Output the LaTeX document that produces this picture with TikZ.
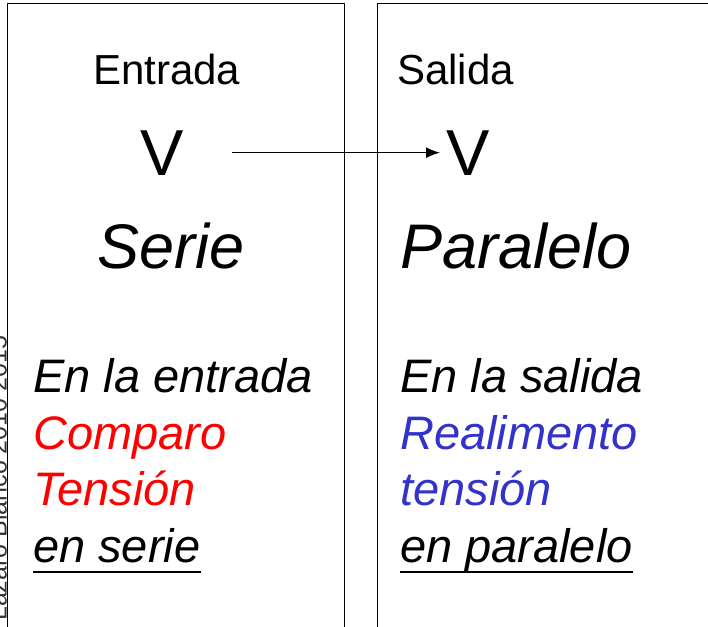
\documentclass[tikz,border=0pt]{standalone}
\usepackage{fontspec}
\setmainfont{Liberation Sans}
\usetikzlibrary{arrows.meta}
\definecolor{realblue}{RGB}{51,51,204}
\tikzstyle{panel} = [line width=1.8pt, draw=black]
\tikzstyle{title} = [anchor=base west, inner sep=0pt, font=\fontsize{42}{50}\selectfont]
\tikzstyle{volt} = [anchor=base west, inner sep=0pt, font=\fontsize{65}{78}\selectfont]
\tikzstyle{kind} = [anchor=base west, inner sep=0pt, font=\fontsize{63}{76}\selectfont\itshape]
\tikzstyle{note} = [anchor=base west, inner sep=0pt, font=\fontsize{47}{56}\selectfont\itshape]
\tikzstyle{arrow} = [line width=1.4pt, -{Latex[length=14pt,width=11pt]}]
\tikzstyle{uline} = [line width=2.2pt]

\begin{document}
\begin{tikzpicture}[x=1pt, y=-1pt]
\useasboundingbox (0,0) rectangle (708,626);
\clip (0,0) rectangle (708,626);

% Panels
\draw[panel] (7.5,700) |- (344.5,3.5) -- (344.5,700);
\draw[panel] (377.5,700) |- (720,3.5);

% Side note
\node (autor) [rotate=90, anchor=base west, inner sep=0pt, text=black!80, font=\fontsize{25}{30}\selectfont] at (6.5,621) {Lazaro Blanco 2010 2015};

% Input side
\node (entrada) [title] at (93,84) {Entrada};
\node (vin) [volt] at (140,175) {V};
\node (serie) [kind] at (97,268) {Serie};
\node (enentrada) [note] at (33,392) {En la entrada};
\node (comparo) [note, text=red] at (33,449) {Comparo};
\node (tension) [note, text=red] at (33,505) {Tensión};
\node (enserie) [note] at (33,562) {en serie};

% Output side
\node (salida) [title] at (397,84) {Salida};
\node (vout) [volt] at (446,175) {V};
\node (paralelo) [kind] at (400,268) {Paralelo};
\node (ensalida) [note] at (400,392) {En la salida};
\node (realimento) [note, text=realblue] at (400,449) {Realimento};
\node (tensionout) [note, text=realblue] at (400,505) {tensión};
\node (enparalelo) [note] at (400,562) {en paralelo};

% Arrow
\draw [arrow, shorten <=48pt, shorten >=6pt] (vin.east) -- (vout.west);

% Underlines
\draw [uline] ([yshift=-10pt]enserie.base west) -- ([yshift=-10pt]enserie.base east);
\draw [uline] ([yshift=-10pt]enparalelo.base west) -- ([yshift=-10pt]enparalelo.base east);

\end{tikzpicture}
\end{document}
